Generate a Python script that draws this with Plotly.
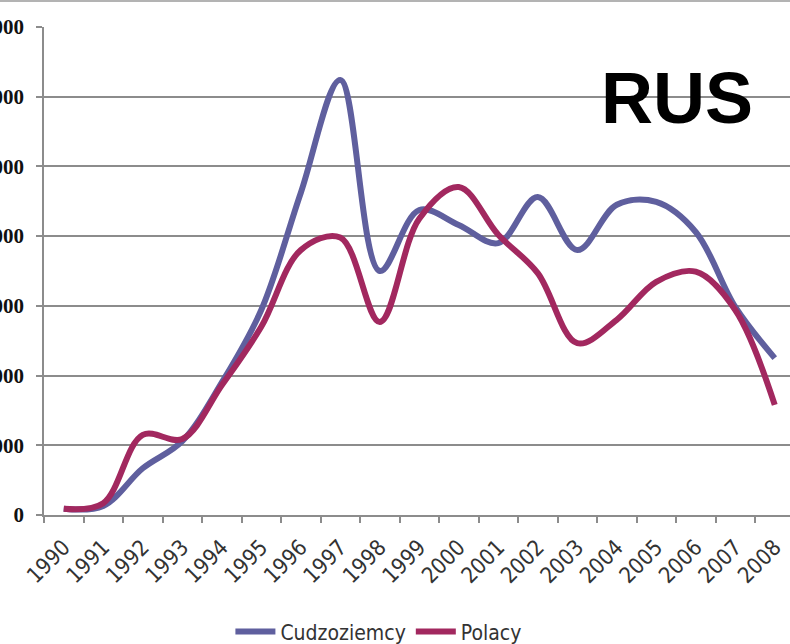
import plotly.graph_objects as go

years = [str(y) for y in range(1990, 2009)]
cudzoziemcy = [90, 130, 670, 1060, 1900, 2940, 4620, 6240, 3500, 4375,
               4160, 3900, 4560, 3800, 4450, 4490, 4060, 2985, 2250]
polacy = [90, 170, 1150, 1090, 1860, 2700, 3800, 3980, 2770, 4250,
          4705, 4020, 3470, 2465, 2800, 3345, 3490, 2940, 1580]
y_ticks = [0, 1000, 2000, 3000, 4000, 5000, 6000, 7000]
y_labels = [str(v) for v in y_ticks]

blue = "#5f5f9e"
magenta = "#a2285f"

fig = go.Figure()
fig.add_trace(go.Scatter(x=years, y=cudzoziemcy, name="Cudzoziemcy", mode="lines",
                         line=dict(color=blue, width=6, shape="spline", smoothing=1)))
fig.add_trace(go.Scatter(x=years, y=polacy, name="Polacy", mode="lines",
                         line=dict(color=magenta, width=6, shape="spline", smoothing=1)))

fig.update_layout(
    width=790, height=644,
    margin=dict(l=44, r=0, t=27, b=129, pad=0),
    paper_bgcolor="white", plot_bgcolor="white",
    showlegend=True,
    legend=dict(orientation="h", xref="container", yref="container",
                x=0.479, xanchor="center", y=0.019, yanchor="middle",
                font=dict(family="Liberation Sans Narrow, DejaVu Sans Condensed, sans-serif",
                          size=21, color="#333333"),
                itemwidth=40, tracegroupgap=0, borderwidth=0),
    xaxis=dict(type="category", range=[-0.5, 18.386], tickson="boundaries",
               showgrid=False, showline=True, linecolor="#8c8c8c", linewidth=1.5,
               ticks="outside", ticklen=6, tickcolor="#8c8c8c", tickwidth=1.5,
               tickangle=-45, automargin=False, ticklabelstandoff=9,
               tickfont=dict(family="Liberation Sans Narrow, DejaVu Sans Condensed, sans-serif",
                             size=22, color="#333333")),
    yaxis=dict(range=[0, 7000], tickvals=y_ticks, ticktext=y_labels,
               showgrid=True, gridcolor="#8c8c8c", gridwidth=1.5,
               showline=True, linecolor="#8c8c8c", linewidth=1.5,
               ticks="outside", ticklen=6, tickcolor="#8c8c8c", tickwidth=1.5,
               zeroline=False, automargin=False, ticklabelstandoff=8,
               tickfont=dict(family="Liberation Serif, serif", size=21, color="#111111",
                             weight="bold")),
    shapes=[dict(type="line", xref="paper", yref="paper", x0=-0.1, x1=1.0,
                 y0=1.0533, y1=1.0533, line=dict(color="#9a9a9a", width=1.5))],
    annotations=[dict(text="<b>RUS</b>", xref="paper", yref="paper", x=0.8485, y=0.8545,
                      xanchor="center", yanchor="middle", showarrow=False,
                      font=dict(family="Liberation Sans, Arial, sans-serif", size=72,
                                color="black"))],
)

fig.write_html("out.html")
